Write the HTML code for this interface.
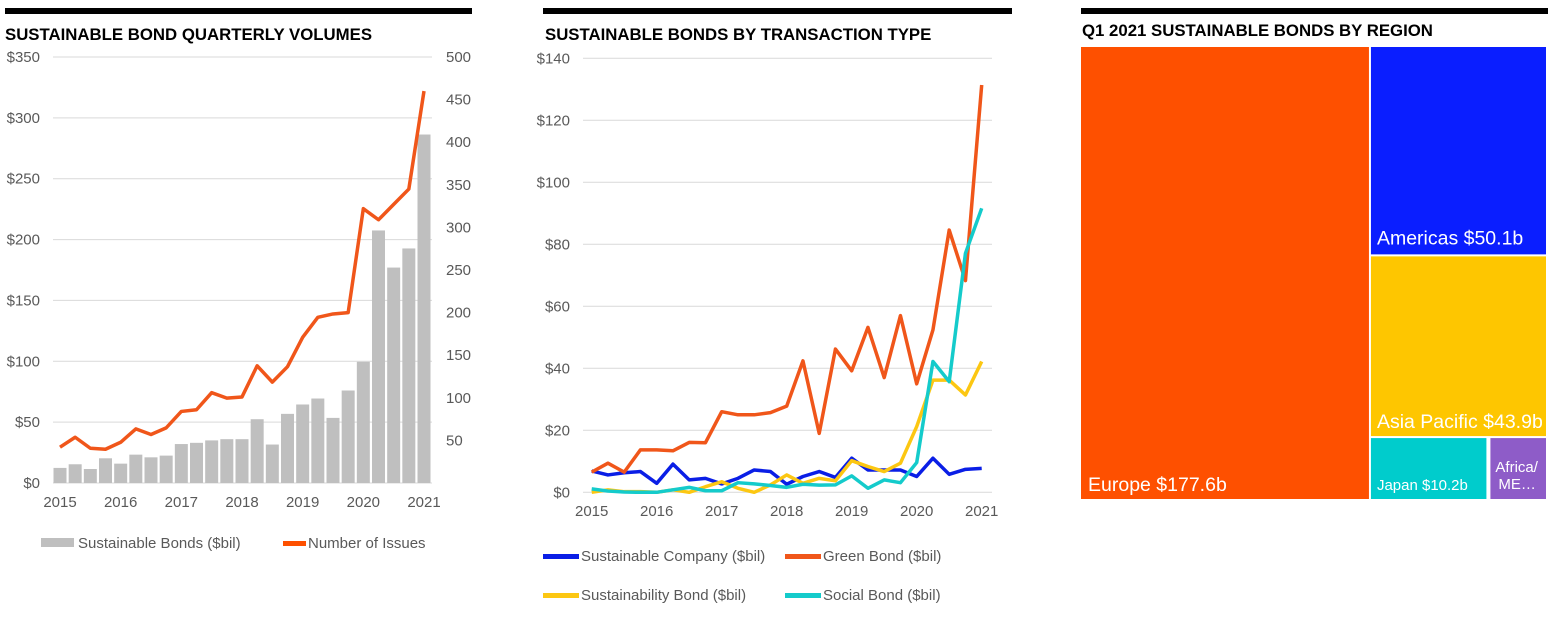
<!DOCTYPE html>
<html><head><meta charset="utf-8"><style>
body{margin:0;background:#fff;width:1555px;height:628px;overflow:hidden}
svg{font-family:"Liberation Sans",Arial,sans-serif}
</style></head><body>
<svg id="s" width="1555" height="628" viewBox="0 0 1555 628">
<rect x="5" y="8" width="467" height="6" fill="#000"/>
<rect x="543" y="8" width="469" height="6" fill="#000"/>
<rect x="1081" y="8" width="467" height="6" fill="#000"/>
<text x="5" y="40" font-size="16.8" font-weight="bold" fill="#000">SUSTAINABLE BOND QUARTERLY VOLUMES</text>
<text x="545" y="40" font-size="16.8" font-weight="bold" fill="#000">SUSTAINABLE BONDS BY TRANSACTION TYPE</text>
<text x="1082" y="36" font-size="16.8" font-weight="bold" fill="#000">Q1 2021 SUSTAINABLE BONDS BY REGION</text>
<g id="c1"></g>
<g id="c2"></g>
<g id="c3"></g>
<g>
<rect x="41" y="538" width="33" height="9" fill="#bfbfbf"/>
<text x="78" y="548" font-size="15" fill="#595959">Sustainable Bonds ($bil)</text>
<rect x="283" y="541" width="23" height="5" fill="#fe5000"/>
<text x="308" y="548" font-size="15" fill="#595959">Number of Issues</text>
</g>
<g>
<rect x="543" y="554" width="36" height="5" fill="#0a1ee6"/>
<text x="581" y="561" font-size="15" fill="#595959">Sustainable Company ($bil)</text>
<rect x="785" y="554" width="36" height="5" fill="#f0561a"/>
<text x="823" y="561" font-size="15" fill="#595959">Green Bond ($bil)</text>
<rect x="543" y="593" width="36" height="5" fill="#fcc712"/>
<text x="581" y="600" font-size="15" fill="#595959">Sustainability Bond ($bil)</text>
<rect x="785" y="593" width="36" height="5" fill="#14cbcb"/>
<text x="823" y="600" font-size="15" fill="#595959">Social Bond ($bil)</text>
</g>
</svg>
<script>
const years=["2015","2016","2017","2018","2019","2020","2021"];
const bondVolumes=[12.4,15.4,11.5,20.3,15.9,23.3,21.1,22.5,32,33,35,36,36,52.4,31.6,56.8,64.5,69.4,53.5,76,99.6,207.5,177,192.7,286.3];
const issueCounts=[42,53.7,40.8,39.6,47.8,63.5,56.9,64.7,84,86,106,99.6,101,137.6,118.4,136.5,171,194.5,198.4,200,322,309,327,345,460];
const leftTicks=["$0","$50","$100","$150","$200","$250","$300","$350"];
const rightTicks=["50","100","150","200","250","300","350","400","450","500"];
const greenBond=[6.5,9.4,6.5,13.7,13.7,13.4,16.1,16,26,25,25,25.7,27.8,42.4,19,46.2,39.2,53.2,37,57,35,52.4,84.6,68.3,131.4];
const companyBond=[6.9,5.6,6.3,6.7,2.9,9.1,4,4.5,2.7,4.5,7.2,6.7,2.6,5.1,6.7,4.8,11,7.2,7.2,7.2,5.1,11,5.8,7.4,7.7];
const sustainabilityBond=[0,0.8,0.2,0.2,0,0.8,0,1.8,3.4,1.3,0,2.4,5.6,2.9,4.5,3.7,10.2,8.3,6.7,9.4,21.2,36.2,36.2,31.4,42.2];
const socialBond=[1.1,0.4,0.1,0,0,0.8,1.6,0.5,0.5,3.1,2.7,2.2,1.6,2.6,2.3,2.4,5.3,1.3,4,3.1,9.6,42.2,35.7,77.1,91.6];
const c2Ticks=["$0","$20","$40","$60","$80","$100","$120","$140"];
const regions=["Europe","Americas","Asia Pacific","Japan","Africa/ME"];
const regionValues=[177.6,50.1,43.9,10.2,5.0];
const regionLabels=["Europe $177.6b","Americas $50.1b","Asia Pacific $43.9b","Japan $10.2b","Africa/ ME…"];

const NS="http://www.w3.org/2000/svg";
function mk(p,t,a){const e=document.createElementNS(NS,t);for(const k in a)e.setAttribute(k,a[k]);p.appendChild(e);return e;}
function tx(p,x,y,s,a){const e=mk(p,"text",Object.assign({x:x,y:y,"font-size":15,fill:"#595959"},a||{}));e.textContent=s;return e;}

// Chart 1
const c1=document.getElementById("c1");
const x1=i=>60+i*(424-60)/24;
const y1=v=>483-v*(426/350);
const y1r=v=>483-v*(426/500);
leftTicks.forEach((t,i)=>{const y=y1(i*50);
 const g=mk(c1,"line",{x1:53,x2:432,y1:y,y2:y,stroke:"#d9d9d9","stroke-width":1});
 
 
 const l=tx(c1,40,y+5,t,{"text-anchor":"end"});
 
 });
rightTicks.forEach((t,i)=>{const l=tx(c1,446,y1r((i+1)*50)+5,t);
 
 });
years.forEach((t,i)=>{const l=tx(c1,x1(i*4),507,t,{"text-anchor":"middle"});
 
 });
bondVolumes.forEach((v,i)=>{const r=mk(c1,"rect",{x:x1(i)-6.5,y:y1(v),width:13,height:483-y1(v),fill:"#bfbfbf"});
 
 });
const p1=mk(c1,"polyline",{points:issueCounts.map((v,i)=>x1(i)+","+y1r(v)).join(" "),fill:"none",stroke:"#f0561a","stroke-width":3.5,"stroke-linejoin":"round"});



// Chart 2
const c2=document.getElementById("c2");
const x2=i=>591.7+i*(981.7-591.7)/24;
const y2=v=>492.3-v*(434/140);
c2Ticks.forEach((t,i)=>{const y=y2(i*20);
 const g=mk(c2,"line",{x1:583,x2:992,y1:y,y2:y,stroke:"#d9d9d9","stroke-width":1});
 
 
 const l=tx(c2,570,y+5,t,{"text-anchor":"end"});
 
 });
years.forEach((t,i)=>{const l=tx(c2,x2(i*4),516,t,{"text-anchor":"middle"});
 
 });
[[companyBond,"#0a1ee6","company-line"],[greenBond,"#f0561a","green-line"],[sustainabilityBond,"#fcc712","sustainability-line"],[socialBond,"#14cbcb","social-line"]].forEach(s=>{
 const p=mk(c2,"polyline",{points:s[0].map((v,i)=>x2(i)+","+y2(v)).join(" "),fill:"none",stroke:s[1],"stroke-width":3.5,"stroke-linejoin":"round"});
 
 });

// Chart 3 treemap
const c3=document.getElementById("c3");
const X0=1081,Y0=47,W=465,H=452,gap=2;
const tot=regionValues.reduce((a,b)=>a+b,0);
const colors=["#fe5000","#0a1eff","#fec600","#00cccc","#8e5cc8"];
const ew=W*regionValues[0]/tot;
const rest=tot-regionValues[0];
const rx=X0+ew+gap, rw=W-ew-gap;
const ah=H*regionValues[1]/rest, ph=H*regionValues[2]/rest;
const bh=H-ah-ph;
const jw=rw*regionValues[3]/(regionValues[3]+regionValues[4]);
const rects=[[X0,Y0,ew,H],[rx,Y0,rw,ah],[rx,Y0+ah+gap,rw,ph-gap],[rx,Y0+ah+ph+gap,jw-gap,bh-gap],[rx+jw+gap,Y0+ah+ph+gap,rw-jw-gap,bh-gap]];
rects.forEach((r,i)=>{const e=mk(c3,"rect",{x:r[0],y:r[1],width:r[2],height:r[3],fill:colors[i]});
 
 });
const lb=[[X0+7,Y0+H-8,19.5,regionLabels[0]],[rx+6,rects[1][1]+rects[1][3]-10,19.5,regionLabels[1]],[rx+6,rects[2][1]+rects[2][3]-8,19.5,regionLabels[2]],[rx+6,Y0+H-9,15,regionLabels[3]]];
lb.forEach(l=>{const e=tx(c3,l[0],l[1],l[3],{"font-size":l[2],fill:"#fff"});
 
 });
const a1=tx(c3,rects[4][0]+5,Y0+H-27,"Africa/",{"font-size":15,fill:"#fff"});


const a2=tx(c3,rects[4][0]+8,Y0+H-10,"ME…",{"font-size":15,fill:"#fff"});


</script>
</body></html>
